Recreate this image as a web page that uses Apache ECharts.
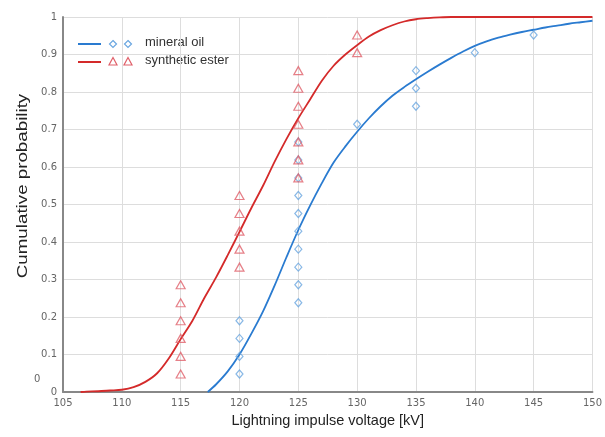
<!DOCTYPE html>
<html><head><meta charset="utf-8">
<script src="https://cdn.jsdelivr.net/npm/echarts@6/dist/echarts.min.js"></script>
<style>html,body{margin:0;padding:0;background:#fff}#c{width:605px;height:437px}</style>
</head><body><div id="c"></div>
<script>
// Fitted curves
const esterCurveX = [106.5,107,108,109,110,111,112,113,114,115,116,117,118,119,120,121,122,123,124,125,126,127,128,129,130,131,132,133,134,135,136,137,138,150];
const esterCurveY = [0,0.001,0.002,0.004,0.006,0.013,0.027,0.05,0.09,0.141,0.19,0.25,0.305,0.365,0.427,0.49,0.55,0.615,0.675,0.73,0.78,0.83,0.87,0.9,0.925,0.948,0.965,0.978,0.988,0.994,0.997,0.999,1,1];
const oilCurveX = [117.3,118,119,120,121,122,123,124,125,126,127,128,129,130,131,132,133,134,135,136,137,138,139,140,141,142,143,144,145,146,147,148,149,150];
const oilCurveY = [0,0.02,0.055,0.1,0.155,0.215,0.285,0.36,0.432,0.497,0.557,0.612,0.655,0.694,0.73,0.762,0.79,0.813,0.834,0.854,0.873,0.891,0.908,0.923,0.935,0.945,0.953,0.96,0.966,0.972,0.977,0.982,0.986,0.99];
// Measured points
const esterPtsX = [115,115,115,115,115,115,120,120,120,120,120,125,125,125,125,125,125,125,130,130];
const esterPtsY = [0.048,0.095,0.143,0.19,0.238,0.286,0.333,0.381,0.429,0.476,0.524,0.571,0.619,0.667,0.714,0.762,0.81,0.857,0.905,0.952];
const oilPtsX = [120,120,120,120,125,125,125,125,125,125,125,125,125,125,130,135,135,135,140,145];
const oilPtsY = [0.048,0.095,0.143,0.19,0.238,0.286,0.333,0.381,0.429,0.476,0.524,0.571,0.619,0.667,0.714,0.762,0.81,0.857,0.905,0.952];
const seriesNames = ['mineral oil','synthetic ester'];
const xTitle = 'Lightning impulse voltage [kV]';
const yTitle = 'Cumulative probability';

const zip = (a,b)=>a.map((v,i)=>[v,b[i]]);
const blueLine = '#2a7bd0', bluePt = '#6aa6e0', redLine = '#d42a2a', redPt = '#e0606a';
const chart = echarts.init(document.getElementById('c'));
chart.setOption({
  animation:false,
  grid:{left:63,right:11,top:17,bottom:45},
  xAxis:{type:'value',min:105,max:150,interval:5,
    name:xTitle,nameLocation:'middle',nameGap:21,
    nameTextStyle:{fontFamily:'Liberation Sans',fontSize:14.5,color:'#222'},
    axisLine:{lineStyle:{color:'#888',width:2}},axisTick:{show:false},
    axisLabel:{fontFamily:'DejaVu Sans',fontSize:10,color:'#666',margin:6},
    splitLine:{lineStyle:{color:'#ddd',width:1}}},
  yAxis:{type:'value',min:0,max:1,interval:0.1,
    axisLine:{show:true,lineStyle:{color:'#888',width:2}},axisTick:{show:false},
    axisLabel:{fontFamily:'DejaVu Sans',fontSize:10,color:'#666',margin:6},
    splitLine:{lineStyle:{color:'#ddd',width:1}}},
  series:[
    {name:seriesNames[0],type:'line',data:zip(oilCurveX,oilCurveY),showSymbol:false,smooth:0.3,
      lineStyle:{color:blueLine,width:1.8},z:3},
    {name:seriesNames[1],type:'line',data:zip(esterCurveX,esterCurveY),showSymbol:false,smooth:0.3,
      lineStyle:{color:redLine,width:1.8},z:3},
    {name:seriesNames[0],type:'scatter',data:zip(oilPtsX,oilPtsY),symbol:'diamond',symbolSize:[7,8],
      itemStyle:{color:'rgba(255,255,255,0)',borderColor:bluePt,borderWidth:1.2},z:4},
    {name:seriesNames[1],type:'scatter',data:zip(esterPtsX,esterPtsY),symbol:'triangle',symbolSize:[9,8],
      itemStyle:{color:'rgba(255,255,255,0)',borderColor:redPt,borderWidth:1.2},z:5}
  ],
  graphic:[
    {type:'text',x:23,y:186,rotation:Math.PI/2,scaleX:1.25,
      style:{text:yTitle,font:'15px "Liberation Sans"',fill:'#222',align:'center',verticalAlign:'middle'}},
    {type:'line',shape:{x1:78,y1:44,x2:101,y2:44},style:{stroke:blueLine,lineWidth:2}},
    {type:'polygon',shape:{points:[[113,40.5],[116.5,44],[113,47.5],[109.5,44]]},style:{fill:'none',stroke:bluePt,lineWidth:1.2}},
    {type:'polygon',shape:{points:[[128,40.5],[131.5,44],[128,47.5],[124.5,44]]},style:{fill:'none',stroke:bluePt,lineWidth:1.2}},
    {type:'text',left:145,top:36,style:{text:seriesNames[0],font:'13px "Liberation Sans"',fill:'#333'}},
    {type:'line',shape:{x1:78,y1:62,x2:101,y2:62},style:{stroke:redLine,lineWidth:2}},
    {type:'polygon',shape:{points:[[113,57.5],[117,65],[109,65]]},style:{fill:'none',stroke:redPt,lineWidth:1.2}},
    {type:'polygon',shape:{points:[[128,57.5],[132,65],[124,65]]},style:{fill:'none',stroke:redPt,lineWidth:1.2}},
    {type:'text',left:145,top:54,style:{text:seriesNames[1],font:'13px "Liberation Sans"',fill:'#333'}},
    {type:'text',left:34,top:374,style:{text:'0',font:'10px "DejaVu Sans"',fill:'#666'}}
  ]
});
</script></body></html>
